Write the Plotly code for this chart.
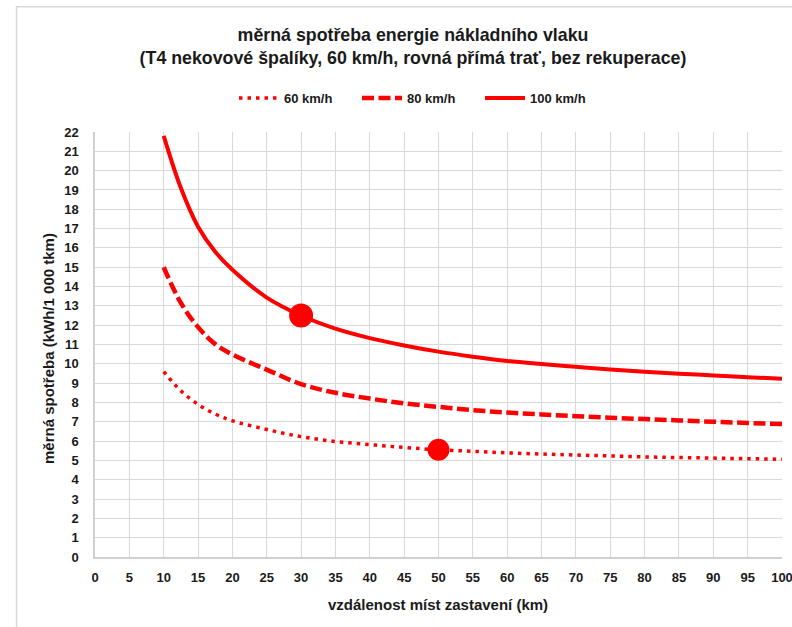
import plotly.graph_objects as go

# --- data ---
distance_km = [10, 12.5, 15, 17.5, 20, 25, 30, 35, 40, 45, 50, 55, 60, 65, 70, 75, 80, 85, 90, 95, 100]
spotreba_60 = [9.6, 8.6, 7.9, 7.4, 7.05, 6.6, 6.23, 5.98, 5.82, 5.67, 5.55, 5.47, 5.39, 5.33, 5.28, 5.23, 5.18, 5.15, 5.12, 5.09, 5.06]
spotreba_80 = [15.0, 13.15, 11.9, 11.02, 10.48, 9.7, 8.95, 8.5, 8.2, 7.95, 7.77, 7.6, 7.48, 7.38, 7.29, 7.21, 7.14, 7.07, 7.0, 6.94, 6.88]
spotreba_100 = [21.8, 19.1, 17.1, 15.8, 14.87, 13.43, 12.5, 11.82, 11.33, 10.95, 10.63, 10.37, 10.15, 9.99, 9.85, 9.71, 9.59, 9.49, 9.40, 9.31, 9.23]
series_names = ["60 km/h", "80 km/h", "100 km/h"]
highlight_x = [30, 50]
highlight_y = [12.5, 5.55]
x_ticks = list(range(0, 101, 5))
y_ticks = list(range(0, 23, 1))

RED = "#ff0000"
ARIAL = "Liberation Sans, Arial, sans-serif"
TXT = "#1a1a1a"

fig = go.Figure()
fig.add_trace(go.Scatter(x=distance_km, y=spotreba_60, name=series_names[0], mode="lines",
                         line=dict(color=RED, width=3.5, dash="3.5px,5px", shape="spline")))
fig.add_trace(go.Scatter(x=distance_km, y=spotreba_80, name=series_names[1], mode="lines",
                         line=dict(color=RED, width=4.5, dash="12px,4.5px", shape="spline")))
fig.add_trace(go.Scatter(x=distance_km, y=spotreba_100, name=series_names[2], mode="lines",
                         line=dict(color=RED, width=4, shape="spline")))
fig.add_trace(go.Scatter(x=highlight_x[:1], y=highlight_y[:1], mode="markers", showlegend=False,
                         marker=dict(color=RED, size=24)))
fig.add_trace(go.Scatter(x=highlight_x[1:], y=highlight_y[1:], mode="markers", showlegend=False,
                         marker=dict(color=RED, size=22)))

fig.update_layout(
    width=792, height=627,
    margin=dict(l=95, r=10, t=132, b=70, autoexpand=False),
    paper_bgcolor="white", plot_bgcolor="white",
    showlegend=True,
    legend=dict(orientation="h", x=(234 - 95) / 687, y=1.08, xanchor="left", yanchor="middle",
                itemwidth=40, entrywidth=68, entrywidthmode="pixels",
                font=dict(family=ARIAL, size=13, color=TXT, weight="bold"), bgcolor="rgba(0,0,0,0)"),
    title=dict(text="měrná spotřeba energie nákladního vlaku<br>(T4 nekovové špalíky, 60 km/h, rovná přímá trať, bez rekuperace)",
               x=413 / 792, xanchor="center", y=1 - 40.5 / 627, yanchor="middle",
               font=dict(family=ARIAL, size=17.8, color=TXT, weight="bold")),
    xaxis=dict(range=[0, 100], tickmode="array", tickvals=x_ticks, showgrid=True, automargin=False,
               gridcolor="#d9d9d9", gridwidth=1, showline=True, linecolor="#d0d0d0", linewidth=1.5,
               zeroline=False, ticks="", ticklabelstandoff=8, ticklabeloverflow="allow",
               tickfont=dict(family=ARIAL, size=13, color=TXT, weight="bold")),
    yaxis=dict(range=[0, 22], tickmode="array", tickvals=y_ticks, showgrid=True, automargin=False,
               gridcolor="#d9d9d9", gridwidth=1, showline=True, linecolor="#d0d0d0", linewidth=1.5,
               zeroline=False, ticks="", ticklabelstandoff=12,
               tickfont=dict(family=ARIAL, size=13, color=TXT, weight="bold")),
    annotations=[
        dict(text="vzdálenost míst zastavení (km)", xref="paper", yref="paper",
             x=(438 - 95) / 687, y=(557 - 604) / 425, xanchor="center", yanchor="middle",
             showarrow=False, font=dict(family=ARIAL, size=15, color=TXT, weight="bold")),
        dict(text="měrná spotřeba (kWh/1 000 tkm)", xref="paper", yref="paper",
             x=(48 - 95) / 687, y=(557 - 349) / 425, xanchor="center", yanchor="middle",
             textangle=-90, showarrow=False, font=dict(family=ARIAL, size=15, color=TXT, weight="bold")),
    ],
    shapes=[dict(type="rect", xref="paper", yref="paper", layer="below",
                 x0=(16.5 - 95) / 687, x1=(800 - 95) / 687,
                 y0=(557 - 640) / 425, y1=(557 - 6.7) / 425,
                 line=dict(color="#d9d9d9", width=1.5), fillcolor="rgba(0,0,0,0)")],
)

fig.write_html("out.html")
